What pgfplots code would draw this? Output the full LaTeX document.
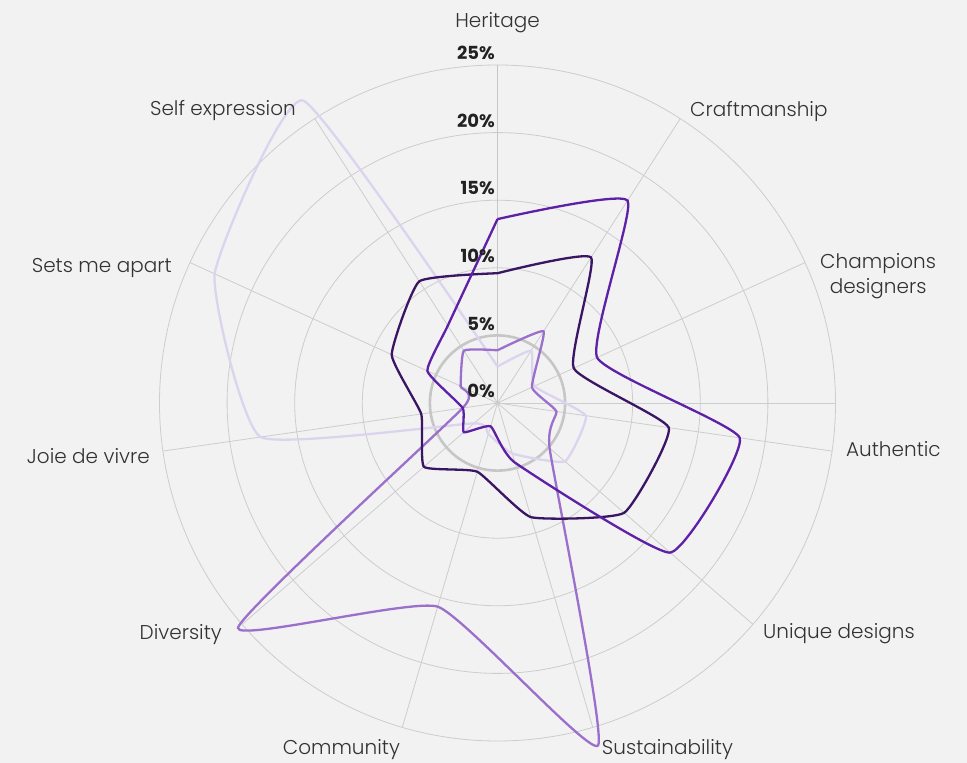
\documentclass[border=0pt]{standalone}
\usepackage{pgfplots}
\pgfplotsset{compat=1.18}
\usepgfplotslibrary{polar}
\usepackage{fontspec}
\setmainfont{Poppins}
\newfontfamily\lightfont{Poppins Light}
\definecolor{bg}{HTML}{F2F2F2}
\definecolor{gridc}{HTML}{CDCDCD}
\definecolor{gridd}{HTML}{C6C6C6}
\definecolor{darkc}{HTML}{3A1563}
\definecolor{vividc}{HTML}{5D20A6}
\definecolor{lightc}{HTML}{DCD3EE}
\definecolor{medc}{HTML}{9B70CC}
\definecolor{labc}{HTML}{333333}
\definecolor{tickc}{HTML}{222222}
\newcommand{\labfont}{\lightfont\fontsize{20}{25}\selectfont}
\newcommand{\tickfont}{\bfseries\fontsize{18}{18}\selectfont}
\begin{document}
\begin{tikzpicture}
\fill[bg] (0,0) rectangle (967pt,763pt);
\begin{polaraxis}[
  at={(497.5pt,360pt)}, anchor=center,
  scale only axis, width=676pt, height=676pt,
  ymin=0, ymax=25,
  xtick={57.273,24.545,351.818,319.091,286.364,253.636,220.909,188.182,155.455,122.727},
  xticklabels={},
  ytick={10,15,20},
  yticklabels={},
  major tick length=0pt,
  grid=major,
  major grid style={draw=gridc, line width=0.8pt},
  extra x ticks={90}, extra x tick labels={},
  extra x tick style={major grid style={draw=gridd, line width=1.8pt}},
  extra y ticks={5}, extra y tick labels={},
  extra y tick style={major grid style={draw=gridd, line width=2.6pt}},
  axis line style={draw=gridc, line width=0.8pt},
  clip=false,
]
% Light lavender
\addplot[draw=lightc, line width=2.3pt, smooth, tension=0.25] coordinates {
(90,2.7) (57.273,4.6) (24.545,3.0) (351.818,6.6) (319.091,6.6) (286.364,3.9)
(253.636,2.4) (220.909,2.3) (188.182,17.7) (155.455,23.0) (122.727,26.6) (90,2.7)};
% Medium lavender
\addplot[draw=medc, line width=2.3pt, smooth, tension=0.25] coordinates {
(90,3.9) (57.273,6.3) (24.545,2.8) (351.818,4.4) (319.091,5.1) (286.364,26.4)
(253.636,15.7) (220.909,25.4) (188.182,2.6) (155.455,3.0) (122.727,4.6) (90,3.9)};
% Dark purple
\addplot[draw=darkc, line width=2.3pt, smooth, tension=0.25] coordinates {
(90,9.6) (57.273,12.8) (24.545,6.2) (351.818,12.8) (319.091,12.4) (286.364,8.8)
(253.636,5.3) (220.909,7.2) (188.182,5.7) (155.455,8.6) (122.727,10.7) (90,9.6)};
% Vivid purple
\addplot[draw=vividc, line width=2.3pt, smooth, tension=0.25] coordinates {
(90,13.6) (57.273,17.8) (24.545,8.1) (351.818,18.1) (319.091,16.9) (286.364,4.6)
(253.636,1.8) (220.909,3.3) (188.182,2.6) (155.455,5.7) (122.727,6.8) (90,13.6)};
% radial labels
\node[anchor=south east, inner sep=0pt, font=\tickfont, text=tickc, xshift=-2.5pt, yshift=5pt] at (axis cs:90,0) {0\%};
\node[anchor=south east, inner sep=0pt, font=\tickfont, text=tickc, xshift=-2.5pt, yshift=5pt] at (axis cs:90,5) {5\%};
\node[anchor=south east, inner sep=0pt, font=\tickfont, text=tickc, xshift=-2.5pt, yshift=5pt] at (axis cs:90,10) {10\%};
\node[anchor=south east, inner sep=0pt, font=\tickfont, text=tickc, xshift=-2.5pt, yshift=5pt] at (axis cs:90,15) {15\%};
\node[anchor=south east, inner sep=0pt, font=\tickfont, text=tickc, xshift=-2.5pt, yshift=5pt] at (axis cs:90,20) {20\%};
\node[anchor=south east, inner sep=0pt, font=\tickfont, text=tickc, xshift=-2.5pt, yshift=5pt] at (axis cs:90,25) {25\%};
% category labels
\node[anchor=center, font=\labfont, text=labc] at (axis cs:90,28.1) {Heritage};
\node[anchor=west, font=\labfont, text=labc, inner sep=0pt] at (axis cs:56.6,25.87) {Craftmanship};
\node[anchor=west, font=\labfont, text=labc, inner sep=0pt, align=center] at (axis cs:21.49,25.64) {Champions\\designers};
\node[anchor=west, font=\labfont, text=labc, inner sep=0pt] at (axis cs:352.48,26.0) {Authentic};
\node[anchor=west, font=\labfont, text=labc, inner sep=0pt] at (axis cs:318.98,26.03) {Unique designs};
\node[anchor=west, font=\labfont, text=labc, inner sep=0pt] at (axis cs:286.76,26.75) {Sustainability};
\node[anchor=east, font=\labfont, text=labc, inner sep=0pt] at (axis cs:254.3,26.62) {Community};
\node[anchor=east, font=\labfont, text=labc, inner sep=0pt] at (axis cs:220.1,26.64) {Diversity};
\node[anchor=east, font=\labfont, text=labc, inner sep=0pt] at (axis cs:188.67,26.0) {Joie de vivre};
\node[anchor=east, font=\labfont, text=labc, inner sep=0pt] at (axis cs:157.48,26.07) {Sets me apart};
\node[anchor=east, font=\labfont, text=labc, inner sep=0pt] at (axis cs:124.52,26.3) {Self expression};
\end{polaraxis}
\pgfresetboundingbox
\path (0,0) rectangle (967pt,763pt);
\end{tikzpicture}
\end{document}
